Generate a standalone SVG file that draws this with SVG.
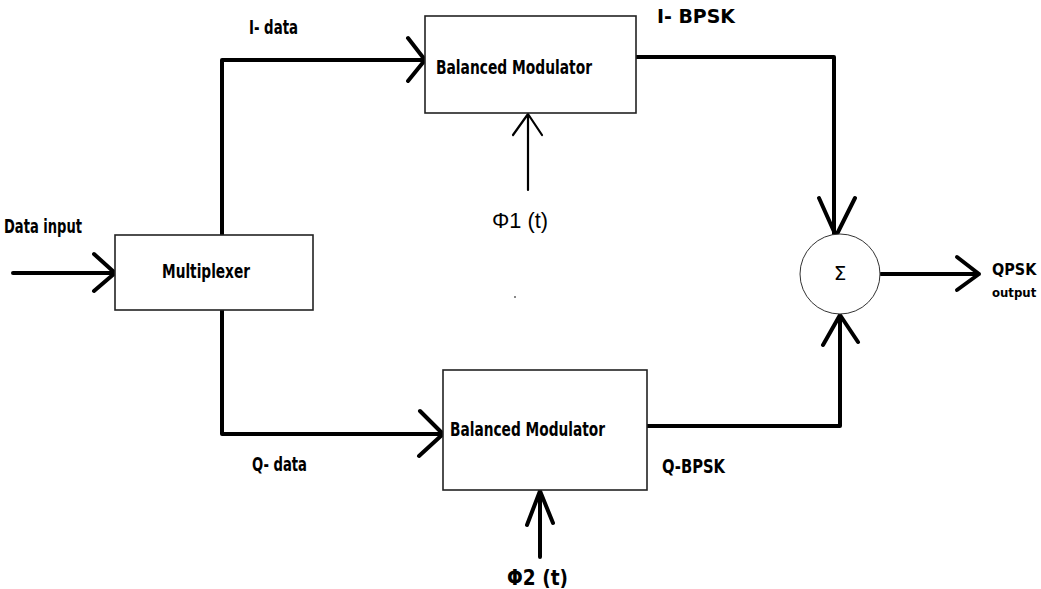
<svg xmlns="http://www.w3.org/2000/svg" width="1041" height="589" viewBox="0 0 1041 589">
<style>
.box{fill:#fff;stroke:#222;stroke-width:1.6}
.w{fill:none;stroke:#000;stroke-width:4;stroke-linecap:round;stroke-linejoin:round}
.thin{fill:none;stroke:#000;stroke-width:2.2;stroke-linecap:round;stroke-linejoin:round}
.t{font-family:"DejaVu Sans Condensed","DejaVu Sans",sans-serif;font-weight:bold;font-size:20px;fill:#000}
.r{font-family:"Liberation Sans",Arial,sans-serif;font-size:22px;fill:#000}
</style>
<rect width="1041" height="589" fill="#fff"/>
<g id="connectors">
<path class="w" d="M13 273 H115 M94 254 L115 273 L94 291"/>
<path class="w" d="M222 235 V60 H425 M408 38 L425 60 L408 81"/>
<path class="w" d="M222 310 V434 H443 M420 411 L443 434 L419 456"/>
<path class="w" d="M636 57 H834 V236 M819 198 L836 236 L855 198"/>
<path class="w" d="M647 426 H840 V315 M823 345 L840 315 L858 342"/>
<path class="w" d="M881 274 H979 M957 257 L979 274 L957 290"/>
<path class="thin" d="M528 190 V114 M513 135 L528 114 L542 135"/>
<path class="w" d="M540 557 V491 M527 525 L540 491 L553 523"/>
</g>
<g id="multiplexer">
<rect class="box" x="115" y="235" width="198" height="75"/>
<text class="t" x="162" y="278" textLength="88" lengthAdjust="spacingAndGlyphs">Multiplexer</text>
</g>
<g id="bm1">
<rect class="box" x="425" y="16" width="211" height="97"/>
<text class="t" x="436" y="74" textLength="156" lengthAdjust="spacingAndGlyphs">Balanced Modulator</text>
</g>
<g id="bm2">
<rect class="box" x="443" y="370" width="204" height="120"/>
<text class="t" x="450" y="436" textLength="155" lengthAdjust="spacingAndGlyphs">Balanced Modulator</text>
</g>
<g id="sum">
<circle cx="840" cy="274" r="40" fill="#fff" stroke="#333" stroke-width="1"/>
<text x="840" y="280" text-anchor="middle" font-family="DejaVu Sans, sans-serif" font-size="20" fill="#000">Σ</text>
</g>
<g id="labels">
<text class="t" x="4" y="233" textLength="78" lengthAdjust="spacingAndGlyphs">Data input</text>
<text class="t" x="249" y="34" textLength="49" lengthAdjust="spacingAndGlyphs">I- data</text>
<text class="t" x="252" y="471" textLength="55" lengthAdjust="spacingAndGlyphs">Q- data</text>
<text class="t" x="657" y="23" textLength="78" lengthAdjust="spacingAndGlyphs">I- BPSK</text>
<text class="t" x="662" y="473" textLength="63" lengthAdjust="spacingAndGlyphs">Q-BPSK</text>
<text class="t" x="992" y="275" style="font-size:16px">QPSK</text>
<text class="t" x="992" y="297" style="font-size:13px">output</text>
<text class="r" x="492" y="228" textLength="56" lengthAdjust="spacingAndGlyphs">Φ1 (t)</text>
<text class="t" x="507" y="585" style="font-size:22px" textLength="61" lengthAdjust="spacingAndGlyphs">Φ2 (t)</text>
</g>
<rect x="514" y="296" width="2" height="2" fill="#888"/>
</svg>
